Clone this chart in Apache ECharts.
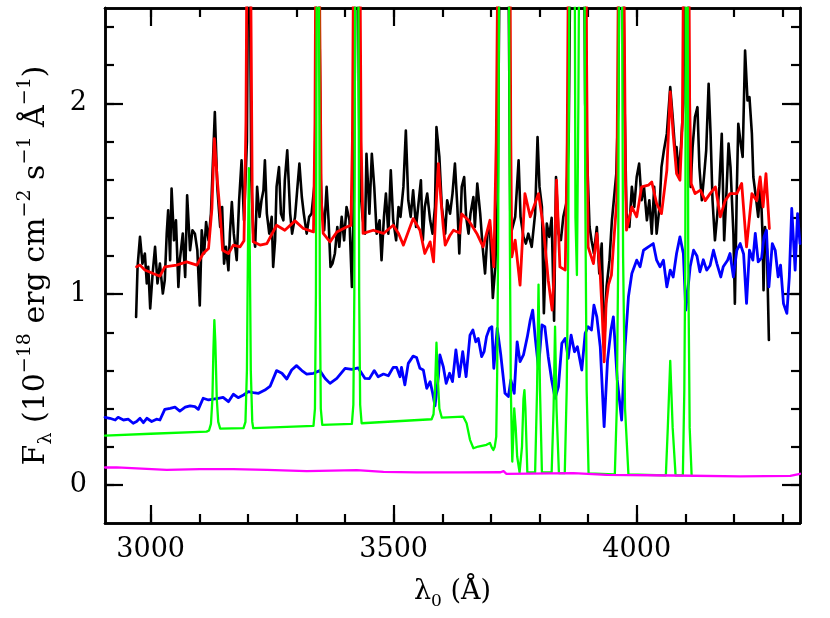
<!DOCTYPE html>
<html>
<head>
<meta charset="utf-8">
<script src="https://cdn.jsdelivr.net/npm/echarts@6/dist/echarts.min.js"></script>
<style>html,body{margin:0;padding:0;background:#fff}#c{width:830px;height:618px}</style>
</head>
<body>
<div id="c"></div>
<script>
// ---- axis ranges and tick labels ----
const X_MIN = 2906, X_MAX = 4336;
const Y_MIN = -0.2, Y_MAX = 2.5;
const xMajor = [3000, 3500, 4000];
const xMinor = [3000, 3100, 3200, 3300, 3400, 3500, 3600, 3700, 3800, 3900, 4000, 4100, 4200, 4300];
const yMajor = [0, 1, 2];
const yMinor = [0, 0.2, 0.4, 0.6, 0.8, 1.0, 1.2, 1.4, 1.6, 1.8, 2.0, 2.2, 2.4];

// ---- observed spectrum (black) [wavelength, flux] ----
const observed = [
[2970,0.88],[2973,1.143],[2978,1.30],[2983,1.16],[2988,1.213],[2992,1.056],[2995,1.143],[2999,0.925],[3004,1.108],[3009,1.248],[3014,1.056],[3019,1.16],[3025,1.003],[3029,1.073],[3033,1.317],[3036,1.44],[3040,1.178],[3043,1.553],[3048,1.282],[3052,1.387],[3057,1.038],[3060,1.178],[3066,1.317],[3071,1.09],[3075,1.518],[3081,1.23],[3086,1.335],[3091,1.317],[3096,1.23],[3101,0.94],[3105,1.335],[3110,1.213],[3114,1.378],[3119,1.282],[3124,1.422],[3132,1.954],[3137,1.562],[3143,1.352],[3147,1.457],[3151,1.16],[3155,1.248],[3160,1.125],[3163,1.317],[3167,1.483],[3171,1.317],[3177,1.178],[3182,1.492],[3187,1.701],[3192,1.387],[3198,1.8],[3202,3.5],[3207,1.6],[3211,1.317],[3215,1.248],[3219,1.562],[3224,1.405],[3228,1.492],[3232,1.544],[3235,1.701],[3239,1.422],[3244,1.317],[3249,1.405],[3252,1.143],[3256,1.282],[3259,1.562],[3264,1.666],[3268,1.422],[3273,1.387],[3276,1.597],[3281,1.754],[3287,1.422],[3291,1.317],[3297,1.405],[3302,1.562],[3306,1.684],[3311,1.509],[3315,1.422],[3321,1.317],[3326,1.405],[3331,1.422],[3338,1.6],[3344,3.5],[3350,1.6],[3352,1.457],[3357,1.335],[3362,1.562],[3366,1.387],[3370,1.143],[3374,1.16],[3379,1.213],[3384,1.352],[3388,1.248],[3393,1.405],[3398,1.282],[3403,1.457],[3409,1.387],[3414,1.038],[3418,1.5],[3424,3.5],[3430,1.6],[3436,1.4],[3441,1.317],[3444,1.736],[3450,1.422],[3455,1.736],[3460,1.562],[3465,1.317],[3471,1.387],[3475,1.178],[3480,1.405],[3484,1.527],[3489,1.317],[3494,1.649],[3499,1.387],[3505,1.282],[3510,1.457],[3514,1.405],[3520,1.562],[3525,1.858],[3530,1.492],[3535,1.405],[3540,1.544],[3546,1.352],[3551,1.474],[3556,1.597],[3560,1.282],[3564,1.457],[3569,1.527],[3575,1.387],[3580,1.317],[3585,1.457],[3588,1.876],[3594,1.719],[3599,1.457],[3606,1.317],[3610,1.492],[3616,1.422],[3621,1.527],[3626,1.684],[3631,1.457],[3635,1.213],[3640,1.562],[3645,1.614],[3649,1.405],[3654,1.317],[3658,1.422],[3664,1.509],[3667,1.352],[3672,1.579],[3678,1.422],[3683,1.248],[3688,1.108],[3693,1.317],[3698,1.352],[3704,0.98],[3709,1.143],[3714,1.5],[3720,3.5],[3727,4],[3734,3.5],[3740,1.4],[3743,1.335],[3750,1.405],[3757,1.701],[3761,1.405],[3767,1.30],[3772,1.265],[3777,1.317],[3784,1.248],[3791,1.422],[3796,1.823],[3800,1.562],[3805,1.457],[3809,0.90],[3815,1.37],[3820,1.30],[3825,1.40],[3830,0.86],[3834,1.614],[3839,1.317],[3844,1.283],[3849,1.405],[3855,1.474],[3860,1.8],[3866,3.5],[3870,4],[3878,2.8],[3884,3.5],[3889,4],[3894,2.0],[3903,1.352],[3907,1.283],[3912,1.213],[3918,1.352],[3923,1.108],[3928,1.265],[3933,0.72],[3938,1.038],[3944,1.178],[3949,1.387],[3952,1.387],[3958,1.631],[3962,2.0],[3968,3.8],[3975,2.0],[3979,1.422],[3985,1.352],[3990,1.562],[3995,1.457],[4000,1.614],[4005,1.684],[4010,1.492],[4015,1.562],[4021,1.387],[4026,1.492],[4031,1.317],[4036,1.562],[4041,1.317],[4047,1.457],[4051,1.666],[4056,1.754],[4062,1.841],[4069,2.085],[4074,1.93],[4079,1.754],[4082,1.771],[4086,1.631],[4091,1.771],[4096,2.0],[4102,3.8],[4108,2.0],[4111,1.562],[4115,1.771],[4120,1.93],[4125,1.98],[4129,1.666],[4134,1.492],[4139,1.631],[4143,1.754],[4148,2.103],[4152,1.841],[4156,1.492],[4161,1.282],[4166,1.422],[4170,1.562],[4175,1.841],[4180,1.282],[4184,1.492],[4189,1.789],[4193,1.666],[4199,1.317],[4202,0.95],[4206,1.544],[4209,1.893],[4214,1.789],[4218,1.719],[4223,2.277],[4228,2.015],[4232,2.033],[4237,1.841],[4240,1.614],[4246,1.492],[4250,1.405],[4255,1.579],[4259,1.30],[4261,1.02],[4264,1.352],[4268,1.23],[4272,0.76]
];

// ---- best-fit model (red) ----
const model = [
[2971,1.143],[2978,1.152],[2988,1.126],[3005,1.108],[3019,1.094],[3029,1.143],[3053,1.152],[3074,1.169],[3095,1.152],[3108,1.213],[3119,1.239],[3126,1.45],[3131,1.815],[3137,1.6],[3143,1.42],[3148,1.23],[3160,1.213],[3170,1.257],[3184,1.248],[3192,1.28],[3196,1.9],[3198.5,3.0],[3201.5,6],[3204,4],[3206,2.6],[3209,1.5],[3211,1.274],[3225,1.257],[3239,1.265],[3259,1.361],[3276,1.335],[3297,1.384],[3314,1.344],[3335,1.326],[3338,1.9],[3340,3],[3343,6],[3346,3.5],[3348,2.4],[3351,1.5],[3355,1.318],[3369,1.274],[3383,1.326],[3403,1.352],[3412,1.36],[3415,1.8],[3418,3],[3424,6],[3430,3],[3433,1.8],[3437,1.318],[3458,1.335],[3479,1.318],[3499,1.361],[3510,1.318],[3520,1.257],[3540,1.396],[3554,1.335],[3564,1.213],[3575,1.274],[3582,1.169],[3587,1.45],[3592,1.684],[3597,1.5],[3602,1.352],[3606,1.257],[3616,1.309],[3623,1.335],[3636,1.32],[3640,1.42],[3654,1.387],[3671,1.318],[3684,1.248],[3698,1.387],[3706,1.143],[3711,1.8],[3715,3],[3720,6],[3727,8],[3734,6],[3739,3],[3741,1.8],[3743,1.195],[3750,1.283],[3760,1.047],[3770,1.527],[3781,1.405],[3798,1.527],[3808,1.352],[3818,1.073],[3826,0.916],[3830,1.1],[3835,1.597],[3842,1.143],[3853,1.126],[3857,1.8],[3860,3],[3866,6],[3870,7],[3877,4],[3883,5],[3889,7],[3894,4],[3897,2.2],[3900,1.248],[3911,1.16],[3918,1.318],[3925,1.1],[3929,0.9],[3933,0.645],[3937,0.95],[3942,1.05],[3948,1.1],[3952,1.248],[3959,1.49],[3962,2.6],[3966,6],[3970,6],[3974,2.6],[3977,1.6],[3979,1.335],[3990,1.457],[4000,1.405],[4010,1.562],[4024,1.571],[4031,1.588],[4041,1.475],[4051,1.422],[4062,1.649],[4069,2.06],[4075,1.84],[4082,1.632],[4089,1.597],[4094,1.9],[4097,3],[4102,6],[4107,3],[4109,2.0],[4112,1.58],[4120,1.527],[4131,1.545],[4141,1.49],[4151,1.527],[4162,1.562],[4172,1.405],[4182,1.49],[4192,1.527],[4206,1.527],[4216,1.58],[4226,1.248],[4237,1.527],[4247,1.49],[4254,1.614],[4260,1.457],[4266,1.632],[4273,1.344]
];

// ---- nebular component (green) ----
const nebular = [
[2906,0.258],[3000,0.268],[3115,0.279],[3120,0.285],[3124,0.32],[3127,0.45],[3129,0.7],[3131,0.864],[3133,0.75],[3136,0.45],[3139,0.33],[3143,0.295],[3146,0.291],[3191,0.297],[3195,0.33],[3198,0.6],[3200,1.2],[3202,1.66],[3204,1.2],[3206,0.6],[3209,0.33],[3211,0.297],[3335,0.309],[3338,0.4],[3340,1.0],[3342,3],[3344,5],[3346,3],[3348,1.0],[3350,0.4],[3353,0.314],[3414,0.32],[3417,0.42],[3419,1.0],[3421,3],[3424,5],[3427,3],[3429,1.0],[3431,0.42],[3434,0.323],[3578,0.344],[3582,0.37],[3585,0.5],[3588,0.745],[3591,0.55],[3594,0.4],[3599,0.352],[3643,0.358],[3650,0.323],[3657,0.236],[3664,0.192],[3674,0.201],[3691,0.21],[3698,0.22],[3702,0.195],[3705,0.183],[3708,0.2],[3711,0.253],[3713,0.6],[3715,1.3],[3720,5],[3727,10],[3734,5],[3739,1.3],[3741,0.5],[3744,0.122],[3746,0.25],[3748,0.401],[3751,0.3],[3754,0.15],[3759,0.065],[3764,0.2],[3767,0.45],[3769,0.497],[3771,0.4],[3775,0.065],[3791,0.065],[3795,0.5],[3798,1.05],[3801,0.5],[3805,0.065],[3825,0.065],[3829,0.4],[3832,0.83],[3835,0.4],[3840,0.061],[3852,0.061],[3856,0.5],[3859,1.2],[3864,4],[3869,6],[3874,1.4],[3877,1.1],[3880,2],[3884,4],[3889,6],[3894,1.6],[3897,0.5],[3901,0.06],[3955,0.055],[3959,0.4],[3962,1.2],[3966,5],[3969,5],[3972,1.2],[3976,0.4],[3983,0.055],[4060,0.05],[4064,0.3],[4069,0.65],[4074,0.3],[4080,0.05],[4095,0.05],[4098,0.5],[4100,1.2],[4103,5],[4106,1.2],[4109,0.3],[4113,0.05]
];

// ---- stellar component (blue) ----
const stellar = [
[2906,0.354],[2916,0.349],[2927,0.340],[2933,0.354],[2944,0.340],[2954,0.344],[2964,0.323],[2971,0.332],[2978,0.349],[2985,0.326],[2992,0.349],[3002,0.332],[3012,0.344],[3019,0.340],[3029,0.396],[3040,0.401],[3050,0.407],[3060,0.387],[3071,0.407],[3081,0.414],[3091,0.410],[3098,0.396],[3108,0.454],[3119,0.445],[3129,0.449],[3139,0.454],[3149,0.459],[3160,0.436],[3170,0.475],[3180,0.457],[3191,0.471],[3201,0.489],[3211,0.483],[3222,0.480],[3235,0.497],[3246,0.518],[3259,0.599],[3270,0.585],[3280,0.555],[3290,0.602],[3300,0.625],[3311,0.599],[3321,0.581],[3335,0.585],[3348,0.599],[3359,0.558],[3369,0.532],[3383,0.558],[3400,0.611],[3414,0.606],[3427,0.613],[3441,0.558],[3450,0.557],[3460,0.599],[3468,0.567],[3479,0.581],[3489,0.572],[3499,0.616],[3506,0.616],[3513,0.567],[3516,0.616],[3523,0.524],[3530,0.637],[3540,0.675],[3547,0.668],[3554,0.611],[3561,0.602],[3568,0.506],[3575,0.541],[3580,0.483],[3585,0.414],[3592,0.567],
[3595,0.681],[3602,0.620],[3608,0.532],[3615,0.585],[3621,0.541],[3628,0.707],[3635,0.567],[3642,0.698],[3649,0.567],[3657,0.785],[3663,0.812],[3669,0.750],[3674,0.768],[3681,0.672],[3686,0.698],[3691,0.777],[3697,0.820],[3702,0.829],[3706,0.611],[3713,0.820],[3720,0.689],[3729,0.480],[3736,0.463],[3741,0.550],[3748,0.480],[3754,0.750],[3760,0.646],[3767,0.681],[3775,0.777],[3781,0.864],[3786,0.916],[3791,0.777],[3798,0.611],[3805,0.838],[3811,0.829],[3818,0.672],[3825,0.550],[3832,0.454],[3839,0.515],[3846,0.742],[3853,0.768],[3859,0.663],[3865,0.785],[3872,0.698],[3878,0.724],[3887,0.602],[3894,0.794],[3900,0.829],[3907,0.812],[3912,0.942],[3918,0.881],[3925,0.724],[3933,0.305],[3940,0.654],[3947,0.812],[3952,0.881],[3960,0.550],[3969,0.340],[3976,0.724],[3983,0.986],
[3990,1.108],[4000,1.178],[4007,1.143],[4014,1.23],[4024,1.248],[4034,1.265],[4041,1.178],[4048,1.143],[4055,1.178],[4062,1.038],[4069,1.126],[4075,1.09],[4082,1.213],[4089,1.30],[4096,1.213],[4101,0.916],
[4110,1.143],[4117,1.23],[4124,1.20],[4130,1.117],[4137,1.18],[4144,1.126],[4151,1.15],[4158,1.23],[4165,1.16],[4173,1.09],[4178,1.143],[4187,1.178],[4192,1.213],[4199,1.09],[4206,1.23],[4213,1.265],[4220,1.21],[4226,0.951],[4232,1.23],[4239,1.178],[4244,1.318],[4250,1.169],[4257,1.19],[4262,1.30],[4267,1.335],[4272,1.038],[4279,1.265],[4285,1.23],[4291,1.09],[4296,1.152],[4302,0.951],[4309,0.899],[4314,1.09],[4319,1.449],[4326,1.126],[4331,1.422],[4336,1.265]
];

// ---- additional component (magenta) ----
const extra = [
[2906,0.091],[2930,0.092],[3033,0.079],[3101,0.082],[3170,0.082],[3239,0.079],[3321,0.072],[3424,0.077],[3479,0.068],[3547,0.065],[3636,0.065],[3720,0.066],[3726,0.072],[3732,0.058],[3870,0.061],[3938,0.052],[4075,0.049],[4213,0.044],[4316,0.047],[4336,0.058]
];

const FONT = 'DejaVu Serif';
const INK = '#000';

function xAxisCfg(pos, ticks, len, withLabels) {
  return {
    type: 'value', min: X_MIN, max: X_MAX, position: pos,
    axisLine: { show: true, onZero: false, lineStyle: { color: INK, width: 2.5 } },
    axisTick: { show: true, inside: true, length: len, customValues: ticks, lineStyle: { color: INK, width: 2.2 } },
    axisLabel: withLabels ? { show: true, customValues: ticks, margin: 13, color: INK, fontSize: 27, fontFamily: FONT, formatter: v => String(v) } : { show: false },
    splitLine: { show: false }
  };
}
function yAxisCfg(pos, ticks, len, withLabels) {
  return {
    type: 'value', min: Y_MIN, max: Y_MAX, position: pos,
    axisLine: { show: true, onZero: false, lineStyle: { color: INK, width: 2.5 } },
    axisTick: { show: true, inside: true, length: len, customValues: ticks, lineStyle: { color: INK, width: 2.2 } },
    axisLabel: withLabels ? { show: true, customValues: ticks, margin: 18, color: INK, fontSize: 27, fontFamily: FONT, formatter: v => String(v) } : { show: false },
    splitLine: { show: false }
  };
}

const xAxes = [
  xAxisCfg('bottom', xMajor, 18, true),
  xAxisCfg('bottom', xMinor, 9, false),
  xAxisCfg('top', xMajor, 18, false),
  xAxisCfg('top', xMinor, 9, false)
];
xAxes[0].name = '{b|λ}{sub|0}{b| (Å)}';
xAxes[0].nameLocation = 'middle';
xAxes[0].nameGap = 51;
xAxes[0].nameTextStyle = {
  color: INK, fontFamily: FONT,
  rich: {
    b: { fontSize: 27, fontFamily: FONT, color: INK, lineHeight: 36 },
    sub: { fontSize: 17, fontFamily: FONT, color: INK, lineHeight: 18, verticalAlign: 'bottom' }
  }
};

const yAxes = [
  yAxisCfg('left', yMajor, 18, true),
  yAxisCfg('left', yMinor, 9, false),
  yAxisCfg('right', yMajor, 18, false),
  yAxisCfg('right', yMinor, 9, false)
];
yAxes[0].name = '{b|F}{sub|λ}{b| (10}{sup|−18}{b| erg cm}{sup|−2}{b| s}{sup|−1}{b| Å}{sup|−1}{b|)}';
yAxes[0].nameLocation = 'middle';
yAxes[0].nameGap = 49;
yAxes[0].nameTextStyle = {
  color: INK, fontFamily: FONT,
  rich: {
    b: { fontSize: 30, fontFamily: FONT, color: INK, lineHeight: 40 },
    sup: { fontSize: 19, fontFamily: FONT, color: INK, lineHeight: 19, verticalAlign: 'top' },
    sub: { fontSize: 19, fontFamily: FONT, color: INK, lineHeight: 19, verticalAlign: 'bottom' }
  }
};

function lineSeries(name, data, color, width, z) {
  return {
    name: name, type: 'line', data: data, xAxisIndex: 0, yAxisIndex: 0,
    showSymbol: false, symbol: 'none', smooth: false, clip: true, silent: true,
    lineStyle: { color: color, width: width, join: 'round', cap: 'round' }, z: z, animation: false
  };
}

const chart = echarts.init(document.getElementById('c'), null, { renderer: 'canvas' });
chart.setOption({
  backgroundColor: '#fff',
  animation: false,
  grid: { left: 105, right: 30, top: 8, bottom: 95, containLabel: false },
  xAxis: xAxes,
  yAxis: yAxes,
  series: [
    lineSeries('observed', observed, '#000000', 2.6, 2),
    lineSeries('model', model, '#ff0000', 2.8, 3),
    lineSeries('stellar', stellar, '#0000ff', 2.8, 4),
    lineSeries('nebular', nebular, '#00ff00', 2.3, 5),
    lineSeries('extra', extra, '#ff00ff', 2.3, 6)
  ]
});
</script>
</body>
</html>
